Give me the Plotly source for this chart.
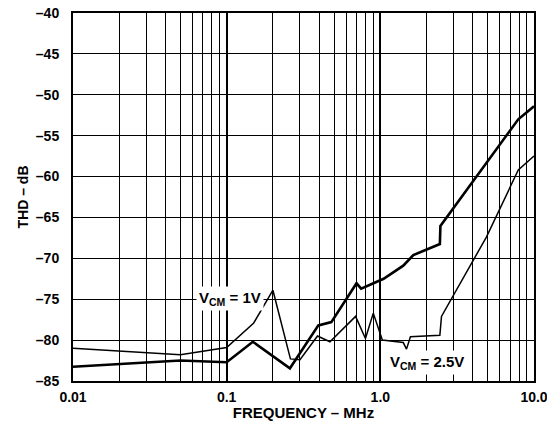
import plotly.graph_objects as go
import math

# Data
f_thin = [0.01, 0.05, 0.1, 0.15, 0.2, 0.26, 0.3, 0.39, 0.47, 0.69, 0.8, 0.9, 1.03, 1.41, 1.48, 1.57, 2.44, 2.5, 4.9, 7.9, 10.0]
v_thin = [-81.0, -81.8, -80.9, -77.9, -73.9, -82.3, -82.4, -79.5, -80.2, -77.1, -79.8, -76.7, -80.0, -80.3, -81.1, -79.6, -79.4, -77.1, -67.4, -59.2, -57.5]

f_thick = [0.01, 0.05, 0.1, 0.148, 0.258, 0.395, 0.48, 0.70, 0.75, 1.05, 1.41, 1.64, 2.44, 2.46, 7.9, 10.0]
v_thick = [-83.25, -82.5, -82.7, -80.2, -83.45, -78.2, -77.8, -73.05, -73.7, -72.5, -70.9, -69.6, -68.25, -66.05, -53.0, -51.4]

x_ticks = [0.01, 0.1, 1.0, 10.0]
x_ticktext = ["0.01", "0.1", "1.0", "10.0"]
y_ticks = list(range(-85, -39, 5))
y_ticktext = ["\u2013" + str(abs(v)) for v in y_ticks]
minor_vals = [m * d for d in (0.01, 0.1, 1.0) for m in range(2, 10)]

FONT = "Liberation Sans, Arial, sans-serif"

fig = go.Figure()
fig.add_trace(go.Scatter(x=f_thin, y=v_thin, mode="lines",
                         line=dict(color="black", width=1.5), showlegend=False))
fig.add_trace(go.Scatter(x=f_thick, y=v_thick, mode="lines",
                         line=dict(color="black", width=2.6), showlegend=False))

# page body has an 8px margin; size/margins compensate so the plot area
# lands at x 73..534, y 13..381 in the 555x421 window
fig.update_layout(
    width=547, height=413,
    margin=dict(l=65, r=21, t=5, b=40, autoexpand=False),
    paper_bgcolor="white", plot_bgcolor="white",
    font=dict(family=FONT, size=14, color="black", weight="bold"),
    showlegend=False,
)
fig.update_xaxes(
    type="log", range=[-2, 1], automargin=False,
    tickmode="array", tickvals=x_ticks, ticktext=x_ticktext,
    showgrid=True, gridcolor="black", gridwidth=2,
    minor=dict(tickmode="array", tickvals=minor_vals, showgrid=True,
               gridcolor="black", gridwidth=1, ticks=""),
    showline=True, linecolor="black", linewidth=2, mirror=True,
    ticks="", ticklabelstandoff=2, ticklabeloverflow="allow",
    tickfont=dict(size=14, family=FONT, weight="bold"),
    title=dict(text="FREQUENCY \u2013 MHz", font=dict(size=15, family=FONT, weight="bold"), standoff=2),
    zeroline=False,
)
fig.update_yaxes(
    range=[-85, -40], automargin=False,
    tickmode="array", tickvals=y_ticks, ticktext=y_ticktext,
    showgrid=True, gridcolor="black", gridwidth=1,
    showline=True, linecolor="black", linewidth=2, mirror=True,
    ticks="", ticklabelstandoff=9, ticklabeloverflow="allow",
    tickfont=dict(size=14, family=FONT, weight="bold"),
    title=dict(text="THD \u2013 dB", font=dict(size=14, family=FONT, weight="bold"), standoff=4),
    zeroline=False,
)

fig.add_annotation(x=math.log10(0.1045), y=-74.85, xref="x", yref="y",
                   text="V<sub>CM</sub> = 1V", showarrow=False,
                   bgcolor="white", borderpad=2,
                   font=dict(size=15, family=FONT, weight="bold", color="black"))
fig.add_annotation(x=math.log10(2.01), y=-82.7, xref="x", yref="y",
                   text="V<sub>CM</sub> = 2.5V", showarrow=False,
                   bgcolor="white", borderpad=2,
                   font=dict(size=15, family=FONT, weight="bold", color="black"))

fig.write_html("out.html")
